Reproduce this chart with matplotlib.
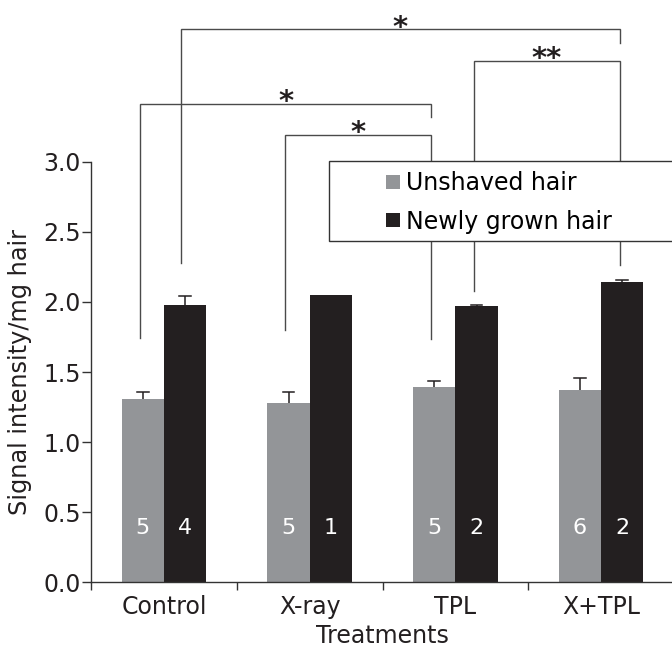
import matplotlib
matplotlib.use("Agg")
import matplotlib.pyplot as plt
from matplotlib.lines import Line2D
from matplotlib.patches import Rectangle
import numpy as np

categories = ['Control', 'X-ray', 'TPL', 'X+TPL']
unshaved = [1.31, 1.28, 1.39, 1.37]
unshaved_err = [0.05, 0.08, 0.047, 0.09]
newly = [1.98, 2.05, 1.97, 2.14]
newly_err = [0.062, 0.0, 0.006, 0.016]
n_unshaved = [5, 5, 5, 6]
n_newly = [4, 1, 2, 2]
yticks = [0.0, 0.5, 1.0, 1.5, 2.0, 2.5, 3.0]

# significance brackets: (x_left, x_right, y_line, y_left_end, y_right_end, label)
brackets = [
    (0.115, 3.126, 3.944, 2.275, 3.849, '*'),
    (-0.163, 1.831, 3.414, 1.745, 3.317, '*'),
    (0.831, 1.831, 3.190, 1.800, 1.733, '*'),
    (2.130, 3.126, 3.720, 2.080, 2.263, '**'),
]

GRAY = '#939598'
BLACK = '#231f20'
LINE = '#4a4a4a'

fig = plt.figure(figsize=(6.72, 6.47), dpi=100)
ax = fig.add_axes([91.2 / 672, 64.7 / 647, (674 - 91.2) / 672, 420.6 / 647])

x = np.arange(len(categories))
w = 0.29
ax.bar(x - w / 2, unshaved, w, color=GRAY, zorder=2, label='Unshaved hair')
ax.bar(x + w / 2, newly, w, color=BLACK, zorder=2, label='Newly grown hair')

# error bars (upper only)
cap = 0.04
for xs, vals, errs in [(x - w / 2, unshaved, unshaved_err), (x + w / 2, newly, newly_err)]:
    for xi, v, e in zip(xs, vals, errs):
        if e > 0:
            ax.plot([xi, xi], [v, v + e], color=BLACK, lw=1.1, zorder=3, solid_capstyle='butt')
            ax.plot([xi - cap, xi + cap], [v + e, v + e], color=BLACK, lw=1.1, zorder=3)

# n labels
for xi, n in zip(x - w / 2, n_unshaved):
    ax.text(xi, 0.39, str(n), color='white', fontsize=16, ha='center', va='center', zorder=4)
for xi, n in zip(x + w / 2, n_newly):
    ax.text(xi, 0.39, str(n), color='white', fontsize=16, ha='center', va='center', zorder=4)

# brackets
for xl, xr, yl, yle, yre, lab in brackets:
    ax.plot([xl, xl, xr, xr], [yle, yl, yl, yre], color=LINE, lw=1.0, zorder=3,
            clip_on=False, solid_joinstyle='miter')
    ax.text((xl + xr) / 2, yl - 0.045, lab, fontsize=21, fontweight='bold', ha='center',
            va='baseline', color=BLACK, zorder=3, clip_on=False)

# legend box
ax.add_patch(Rectangle((1.135, 2.434), 2.8, 3.007 - 2.434, facecolor='white',
                       edgecolor='#333333', lw=1.0, zorder=4, clip_on=False))
handles = [Line2D([], [], marker='s', ls='none', markersize=10, color=GRAY, markeredgewidth=0),
           Line2D([], [], marker='s', ls='none', markersize=10, color=BLACK, markeredgewidth=0)]
leg = ax.legend(handles, ['Unshaved hair', 'Newly grown hair'], loc='upper left',
                bbox_to_anchor=(1.52, 2.934), bbox_transform=ax.transData,
                frameon=False, fontsize=17, handlelength=0.6, handletextpad=0.25,
                labelspacing=0.62, borderpad=0, borderaxespad=0)
leg.set_zorder(5)

ax.set_xlim(-0.5, 3.5)
ax.set_ylim(0, 3.0)
ax.set_yticks(yticks)
ax.set_yticklabels([f'{t:.1f}' for t in yticks])
ax.set_xticks(x)
ax.set_xticklabels(categories)
ax.set_xticks(np.arange(-0.5, 3.6, 1.0), minor=True)
ax.tick_params(axis='x', which='major', length=0, pad=9, labelsize=17, colors=BLACK)
ax.tick_params(axis='x', which='minor', length=6, width=1.0, color='#333333', direction='out')
ax.tick_params(axis='y', length=6.5, width=1.0, pad=1, labelsize=17, color='#333333', labelcolor=BLACK)

for s in ['top', 'right']:
    ax.spines[s].set_visible(False)
for s in ['left', 'bottom']:
    ax.spines[s].set_color('#333333')
    ax.spines[s].set_linewidth(1.0)

ax.set_ylabel('Signal intensity/mg hair', fontsize=17.3, color=BLACK)
ax.yaxis.set_label_coords(-0.1016, 0.5)
ax.set_xlabel('Treatments', fontsize=17, color=BLACK)
ax.xaxis.set_label_coords(0.5, -0.098)

fig.savefig('out.png', dpi=100)
